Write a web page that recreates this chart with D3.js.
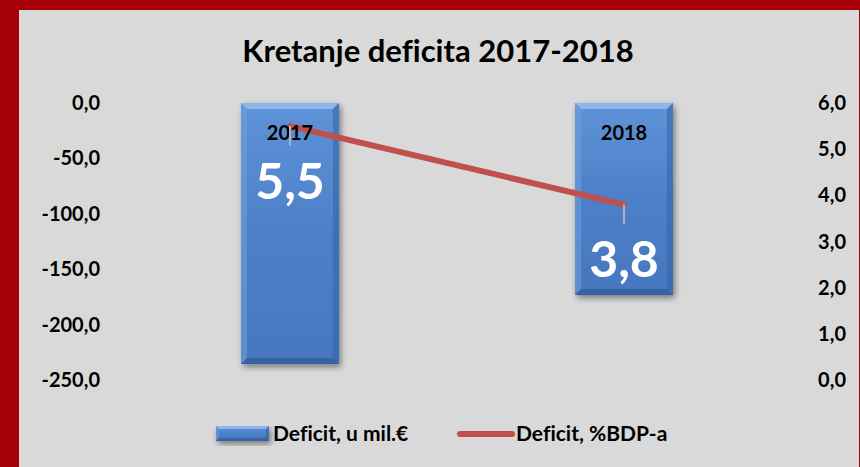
<!DOCTYPE html>
<html><head><meta charset="utf-8">
<script src="https://cdn.jsdelivr.net/npm/d3@7"></script>
<style>
html,body{margin:0;padding:0;background:#A50008;}
svg{display:block;}
text{font-family:Lato,"Open Sans",sans-serif;font-weight:bold;font-variant-ligatures:none;font-feature-settings:"liga" 0;}
</style></head>
<body>
<script>
const title = "Kretanje deficita 2017-2018";
const categories = ["2017", "2018"];
const deficitMil = [-235.6, -173.2];
const deficitPct = [5.5, 3.8];
const pctLabels = ["5,5", "3,8"];
const leftTicks = [0, -50, -100, -150, -200, -250];
const rightTicks = [0, 1, 2, 3, 4, 5, 6];
const legendLabels = ["Deficit, u mil.€", "Deficit, %BDP-a"];

const W = 860, H = 467;
const svg = d3.select("body").append("svg").attr("width", W).attr("height", H);
const defs = svg.append("defs");

svg.append("rect").attr("width", W).attr("height", H).attr("fill", "#A50008");
svg.append("rect").attr("x", 19).attr("y", 10).attr("width", 840).attr("height", H - 10).attr("fill", "#D9D9D9");

const fmt = v => d3.format(".1f")(v).replace(".", ",").replace("−", "-");

const plot = {left: 123, right: 791, top: 103, bottom: 380};
const x = d3.scalePoint().domain(categories).range([plot.left, plot.right]).padding(0.5);
const y0 = d3.scaleLinear().domain([-250, 0]).range([plot.bottom, plot.top]);
const y1 = d3.scaleLinear().domain([0, 6]).range([plot.bottom, plot.top]);
const barW = x.step() * 0.293;

const g1 = defs.append("linearGradient").attr("id", "barGrad").attr("x1", 0).attr("y1", 0).attr("x2", 0).attr("y2", 1);
g1.append("stop").attr("offset", "0").attr("stop-color", "#5F93D8");
g1.append("stop").attr("offset", "0.5").attr("stop-color", "#4C80C8");
g1.append("stop").attr("offset", "1").attr("stop-color", "#4677BE");
const fl = defs.append("filter").attr("id", "shadow").attr("x", "-20%").attr("y", "-20%").attr("width", "150%").attr("height", "150%");
fl.append("feGaussianBlur").attr("in", "SourceAlpha").attr("stdDeviation", 3);
fl.append("feOffset").attr("dx", 2).attr("dy", 3).attr("result", "ob");
fl.append("feComponentTransfer").append("feFuncA").attr("type", "linear").attr("slope", 0.45);
const fm = fl.append("feMerge");
fm.append("feMergeNode");
fm.append("feMergeNode").attr("in", "SourceGraphic");

function bevelRect(g, bx, by, bw, bh, b) {
  g.append("rect").attr("x", bx).attr("y", by).attr("width", bw).attr("height", bh)
    .attr("fill", "url(#barGrad)").attr("filter", "url(#shadow)");
  const poly = (pts, c, o) => g.append("polygon").attr("points", pts.map(p => p.join(",")).join(" ")).attr("fill", c).attr("opacity", o);
  poly([[bx, by], [bx + bw, by], [bx + bw - b, by + b], [bx + b, by + b]], "#9CC3F2", 0.75);
  poly([[bx, by], [bx + b, by + b], [bx + b, by + bh - b], [bx, by + bh]], "#6E9DDB", 0.6);
  poly([[bx + bw, by], [bx + bw, by + bh], [bx + bw - b, by + bh - b], [bx + bw - b, by + b]], "#3565A8", 0.6);
  poly([[bx, by + bh], [bx + b, by + bh - b], [bx + bw - b, by + bh - b], [bx + bw, by + bh]], "#2F5A96", 0.7);
}

svg.append("text").attr("x", 438).attr("y", 62).attr("text-anchor", "middle")
  .attr("font-size", 31).attr("fill", "#000").text(title);

svg.append("g").selectAll("text").data(leftTicks).join("text")
  .attr("x", 100).attr("y", d => y0(d)).attr("dy", "0.35em").attr("text-anchor", "end")
  .attr("font-size", 20).attr("fill", "#000").text(d => fmt(d));

svg.append("g").selectAll("text").data(rightTicks).join("text")
  .attr("x", 846).attr("y", d => y1(d)).attr("dy", "0.35em").attr("text-anchor", "end")
  .attr("font-size", 20).attr("fill", "#000").text(d => fmt(d));

const barsG = svg.append("g");
categories.forEach((c, i) => {
  const top = y0(0), bot = y0(deficitMil[i]);
  bevelRect(barsG, x(c) - barW / 2, top, barW, bot - top, 6);
});

const pts = categories.map((c, i) => [x(c), y1(deficitPct[i])]);
svg.append("path").attr("d", d3.line()(pts)).attr("fill", "none")
  .attr("stroke", "#C0504D").attr("stroke-width", 6).attr("stroke-linecap", "round");

svg.append("g").selectAll("text").data(categories).join("text")
  .attr("x", d => x(d)).attr("y", y0(0) + 30).attr("dy", "0.35em").attr("text-anchor", "middle")
  .attr("font-size", 20).attr("fill", "#000").text(d => d);

svg.append("g").selectAll("line").data(deficitPct).join("line")
  .attr("x1", (d, i) => x(categories[i])).attr("x2", (d, i) => x(categories[i]))
  .attr("y1", d => y1(d)).attr("y2", d => y1(d - 0.42))
  .attr("stroke", "#B0B0B0").attr("stroke-width", 2);

svg.append("g").selectAll("text").data(deficitPct).join("text")
  .attr("x", (d, i) => x(categories[i])).attr("y", d => y1(d) + 55).attr("dy", "0.35em")
  .attr("text-anchor", "middle").attr("font-size", 50).attr("fill", "#fff").text((d, i) => pctLabels[i]);

const lg = svg.append("g");
bevelRect(lg, 216, 426, 53, 15, 3);
lg.append("text").attr("x", 273).attr("y", 434).attr("dy", "0.35em").attr("font-size", 21).attr("fill", "#000").text(legendLabels[0]);
lg.append("line").attr("x1", 460).attr("x2", 512).attr("y1", 434).attr("y2", 434)
  .attr("stroke", "#C0504D").attr("stroke-width", 6).attr("stroke-linecap", "round");
lg.append("text").attr("x", 516).attr("y", 434).attr("dy", "0.35em").attr("font-size", 21).attr("fill", "#000").text(legendLabels[1]);
</script>
</body></html>
